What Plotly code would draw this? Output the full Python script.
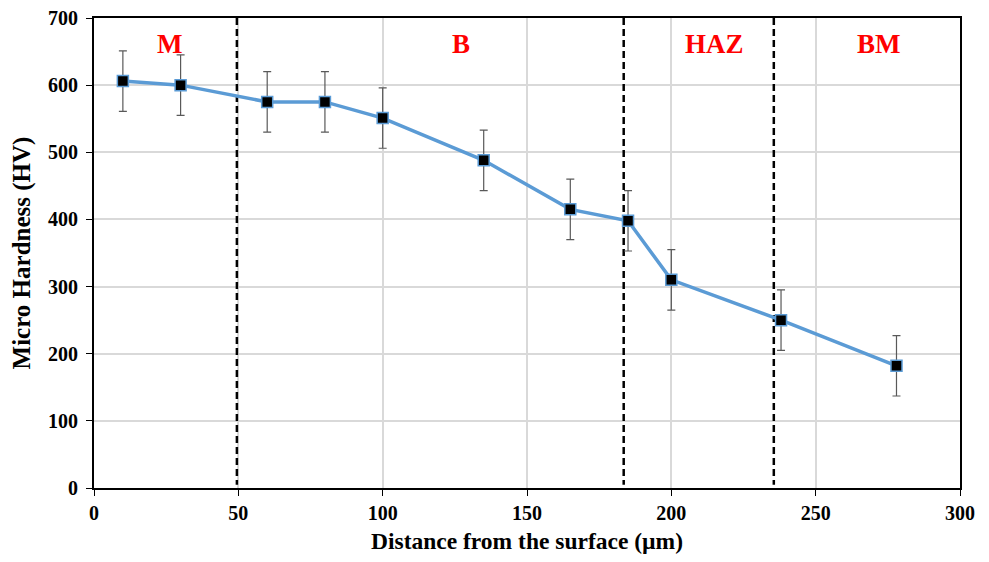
import plotly.graph_objects as go

distance = [10, 30, 60, 80, 100, 135, 165, 185, 200, 238, 278]
hardness = [606, 600, 575, 575, 551, 488, 415, 398, 310, 250, 182]
err = [45, 45, 45, 45, 45, 45, 45, 45, 45, 45, 45]

boundaries = [49.5, 183.5, 235.5]
zone_labels = ["M", "B", "HAZ", "BM"]
zone_x = [26, 127, 215, 272]
zone_y = 661

fig = go.Figure()

for b in boundaries:
    fig.add_trace(go.Scatter(x=[b, b], y=[700, 5], mode="lines",
                             line=dict(color="black", width=2.5, dash="7px,4px"),
                             showlegend=False, hoverinfo="skip"))

fig.add_trace(go.Scatter(
    x=distance, y=hardness, mode="lines+markers",
    line=dict(color="#5b9bd5", width=3.5),
    marker=dict(symbol="square", size=11, color="black",
                line=dict(color="#5b9bd5", width=1.5)),
    error_y=dict(type="data", array=err, visible=True,
                 color="#595959", thickness=1.2, width=4),
    showlegend=False))

for lab, xx in zip(zone_labels, zone_x):
    fig.add_annotation(x=xx, y=zone_y, text="<b>" + lab + "</b>", showarrow=False,
                       font=dict(family="Liberation Serif", size=27, color="red"),
                       xref="x", yref="y")

fig.update_layout(
    width=973, height=546,
    margin=dict(l=86, r=21, t=10, b=66),
    plot_bgcolor="white", paper_bgcolor="white",
    font=dict(family="Liberation Serif", size=15, color="black"),
)
fig.update_xaxes(range=[0, 300], dtick=50, showgrid=True, gridcolor="#d9d9d9", gridwidth=2,
                 zeroline=False, showline=True, linecolor="black", linewidth=2, mirror=True,
                 ticks="outside", ticklen=6, tickcolor="black", automargin=False,
                 ticklabeloverflow="allow",
                 tickfont=dict(family="Liberation Serif", size=20, color="black", weight="bold"),
                 title=dict(text="<b>Distance from the surface (µm)</b>",
                            font=dict(family="Liberation Serif", size=23.5, color="black"), standoff=11))
fig.update_yaxes(range=[0, 700], dtick=100, showgrid=True, gridcolor="#d9d9d9", gridwidth=1.5,
                 zeroline=False, showline=True, linecolor="black", linewidth=2, mirror=True,
                 ticks="outside", ticklen=6, tickcolor="black", automargin=False,
                 ticklabelstandoff=4, ticklabeloverflow="allow",
                 tickfont=dict(family="Liberation Serif", size=20, color="black", weight="bold"),
                 title=dict(text="<b>Micro Hardness (HV)</b>",
                            font=dict(family="Liberation Serif", size=25, color="black"), standoff=18))

fig.write_html("out.html")
